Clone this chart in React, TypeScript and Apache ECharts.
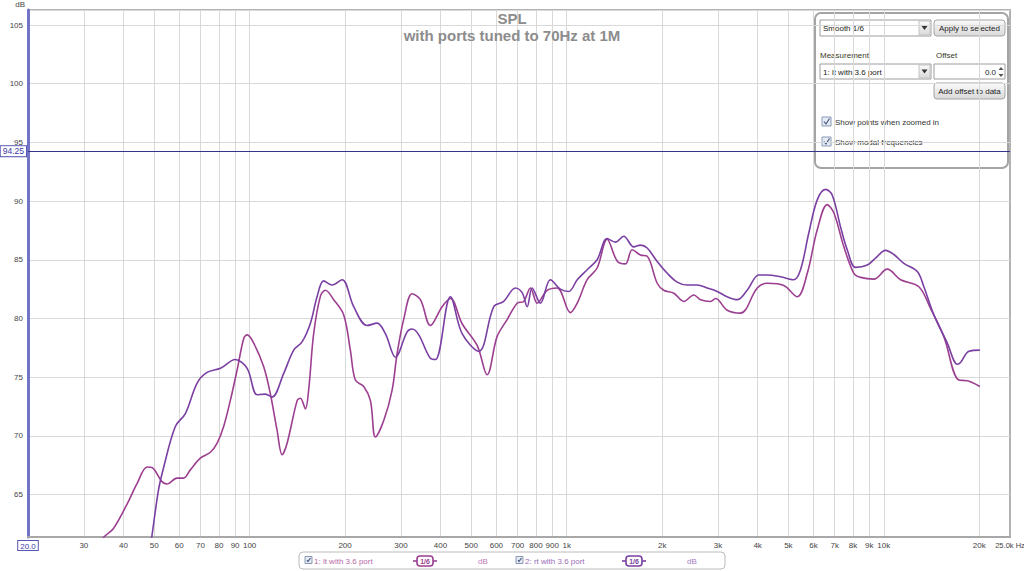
import React, { useEffect, useRef } from "react";
import * as echarts from "echarts";

// ---------- data ----------
const seriesNames = ["1: lt with 3.6 port", "2: rt with 3.6 port"];
const smoothingLabel = "1/6";
const unitLabel = "dB";

const freqLt = [32, 35.1, 37.2, 41.1, 44.1, 47.5, 49.2, 52.9, 54.9, 59.0, 61.9, 65.0, 69.9, 75.2, 78.9, 82.8, 86.9, 91.3, 95.8, 98.2, 103, 110.7, 116.2, 122, 126.6, 131.2, 141.2, 144.6, 149.9, 153.5, 159.2, 167.2, 173.4, 184.1, 198, 207.8, 215.5, 229, 240.4, 249.3, 264.8, 281.4, 291.8, 306, 325.4, 345.6, 371.7, 404.6, 429.8, 467.9, 521.8, 561, 603, 648.7, 697.6, 731.8, 768.4, 807, 867.4, 933, 1027, 1079, 1160, 1247, 1341, 1442, 1532, 1608, 1708, 1794, 1929, 2023, 2177, 2340, 2516, 2642, 2841, 2946, 3206, 3532, 3988, 4288, 4838, 5335, 5736, 6166, 6630, 6956, 7482, 8044, 8447, 9302, 10254, 11294, 12897, 14043, 15465, 17244, 18334, 20085];
const dbLt = [60.5, 61.5, 62.1, 64.2, 65.9, 67.35, 67.3, 66.1, 65.9, 66.4, 66.4, 67.1, 68.1, 68.6, 69.35, 70.8, 73.0, 75.6, 78.3, 78.6, 77.9, 75.9, 73.6, 70.5, 68.4, 69.35, 73.0, 73.2, 72.3, 73.9, 78.7, 81.9, 82.4, 81.6, 80.3, 77.3, 74.75, 74.2, 73.0, 69.9, 71.3, 73.9, 77.0, 79.9, 82.1, 81.6, 79.4, 81.0, 81.7, 79.55, 77.7, 75.2, 78.45, 79.9, 81.3, 81.45, 82.6, 81.3, 82.4, 82.6, 80.5, 81.3, 83.3, 84.3, 86.75, 84.9, 84.65, 85.85, 85.4, 85.3, 83.0, 82.4, 82.15, 81.45, 82.0, 81.6, 81.45, 81.7, 80.7, 80.45, 82.6, 83.0, 82.8, 81.85, 83.85, 87.55, 89.7, 89.0, 86.1, 83.85, 83.5, 83.35, 84.2, 83.3, 82.7, 80.85, 78.45, 74.75, 74.7, 74.2];

const freqRt = [47.5, 49.2, 51.6, 53.6, 58.3, 62.7, 68.3, 73.4, 80.9, 90.1, 98.2, 105.6, 112.1, 117.7, 128, 137.7, 146.3, 155.5, 163.2, 171.2, 182, 195.7, 212.9, 234.6, 252.4, 268, 288.3, 313.8, 325.4, 341.5, 371.7, 385.5, 429.8, 467.9, 528, 588.7, 632.8, 689, 723.5, 750.2, 778, 826, 888, 955, 1015, 1079, 1160, 1247, 1341, 1425, 1513, 1627, 1708, 1794, 1929, 2075, 2230, 2398, 2579, 2773, 2982, 3206, 3448, 3707, 4035, 4288, 4722, 5201, 5462, 5802, 6166, 6548, 6877, 7303, 7667, 8143, 8869, 9419, 10126, 10758, 11564, 12751, 13376, 14384, 15856, 17046, 17462, 18550, 20085];
const dbRt = [58.8, 61.5, 65.4, 67.35, 70.8, 71.9, 74.5, 75.4, 75.75, 76.5, 75.75, 73.5, 73.55, 73.3, 75.3, 77.3, 78.0, 79.6, 81.85, 83.2, 82.85, 83.3, 81.0, 79.4, 79.6, 78.7, 76.7, 78.85, 79.1, 78.6, 76.6, 76.5, 81.85, 78.7, 77.2, 81.0, 81.45, 82.6, 82.2, 81.0, 82.6, 81.3, 83.3, 82.5, 82.3, 83.3, 84.15, 85.0, 86.8, 86.5, 87.0, 86.1, 86.25, 86.0, 84.85, 83.85, 83.1, 82.85, 82.85, 82.6, 82.3, 81.85, 81.6, 82.4, 83.7, 83.7, 83.55, 83.3, 84.15, 87.3, 90.1, 91.0, 90.5, 87.8, 85.85, 84.35, 84.55, 85.15, 85.8, 85.45, 84.7, 84.0, 82.7, 80.3, 77.9, 76.1, 76.25, 77.2, 77.3];

const xLabelValues = [20, 30, 40, 50, 60, 70, 80, 90, 100, 200, 300, 400, 500, 600, 700, 800, 900, 1000, 2000, 3000, 4000, 5000, 6000, 7000, 8000, 9000, 10000, 20000, 25000];
const xGridValues = [30, 40, 50, 60, 70, 80, 90, 100, 200, 300, 400, 500, 600, 700, 800, 900, 1000, 2000, 3000, 4000, 5000, 6000, 7000, 8000, 9000, 10000, 20000];
const xMin = 20;
const xMax = 25000;
const yMin = 61.38;
const yMax = 106.28;
const yStep = 5;
const markerDb = 94.25;

const titleText = "SPL";
const subtitleText = "with ports tuned to 70Hz at 1M";

const panelTexts = {
  smoothing: "Smooth 1/6",
  apply: "Apply to selected",
  measurement: "Measurement",
  offset: "Offset",
  selected: "1: lt with 3.6 port",
  offsetValue: "0.0",
  addOffset: "Add offset to data",
  check1: "Show points when zoomed in",
  check2: "Show modal frequencies",
};

// ---------- styling ----------
const FONT = "Liberation Sans, Arial, sans-serif";
const colLt = "#9c3f90";
const colRt = "#7a3fa2";

function btnGradient() {
  return new echarts.graphic.LinearGradient(0, 0, 0, 1, [
    { offset: 0, color: "#fbfbfb" },
    { offset: 1, color: "#d9d9d9" },
  ]);
}

function dropdown(x: number, y: number, w: number, h: number, text: string): any[] {
  return [
    { type: "rect", shape: { x, y, width: w, height: h }, style: { fill: "#fff", stroke: "#9c9c9c", lineWidth: 1 } },
    { type: "rect", shape: { x: x + w - 12, y: y + 1, width: 11, height: h - 2 }, style: { fill: btnGradient(), stroke: "#c4c4c4", lineWidth: 1 } },
    { type: "polygon", shape: { points: [[x + w - 9.5, y + h / 2 - 2], [x + w - 3.5, y + h / 2 - 2], [x + w - 6.5, y + h / 2 + 2]] }, style: { fill: "#333" } },
    { type: "text", x: x + 3, y: y + h / 2 + 0.5, style: { text, fill: "#222", font: `8px ${FONT}`, verticalAlign: "middle", align: "left" } },
  ];
}

function button(x: number, y: number, w: number, h: number, text: string): any[] {
  return [
    { type: "rect", shape: { x, y, width: w, height: h, r: 3 }, style: { fill: btnGradient(), stroke: "#a4a4a4", lineWidth: 1 } },
    { type: "text", x: x + w / 2, y: y + h / 2 + 0.5, style: { text, fill: "#222", font: `8px ${FONT}`, verticalAlign: "middle", align: "center" } },
  ];
}

function checkbox(x: number, y: number, s: number): any[] {
  return [
    { type: "rect", shape: { x, y, width: s, height: s }, style: { fill: "#e6ecf6", stroke: "#8a98b4", lineWidth: 1 } },
    { type: "polyline", shape: { points: [[x + 2, y + s / 2], [x + s / 2 - 0.5, y + s - 2], [x + s - 1.5, y + 1.5]] }, style: { stroke: "#4a5a80", fill: null, lineWidth: 1.2 } },
  ];
}

function legendIcon(cx: number, cy: number, color: string): any[] {
  return [
    { type: "line", shape: { x1: cx - 12, y1: cy, x2: cx + 12, y2: cy }, style: { stroke: color, lineWidth: 1.6 } },
    { type: "rect", shape: { x: cx - 8, y: cy - 5, width: 16, height: 10, r: 3 }, style: { fill: "#fff", stroke: color, lineWidth: 1.6 } },
    { type: "text", x: cx, y: cy + 0.5, style: { text: smoothingLabel, fill: color, font: `bold 7px ${FONT}`, verticalAlign: "middle", align: "center" } },
  ];
}

function buildOption(): any {
  const lt = freqLt.map((f, i) => [f, dbLt[i]]);
  const rt = freqRt.map((f, i) => [f, dbRt[i]]);

  const panel: any[] = [
    { type: "rect", shape: { x: 815, y: 13, width: 193, height: 155, r: 6 }, style: { fill: "rgba(255,255,255,0.72)", stroke: "#a4a4a4", lineWidth: 2 } },
    ...dropdown(820, 20, 111, 16, panelTexts.smoothing),
    ...button(934, 20, 71, 16, panelTexts.apply),
    { type: "text", x: 820, y: 55, style: { text: panelTexts.measurement, fill: "#3a3a1e", font: `8px ${FONT}`, verticalAlign: "middle" } },
    { type: "text", x: 936, y: 55, style: { text: panelTexts.offset, fill: "#3a3a1e", font: `8px ${FONT}`, verticalAlign: "middle" } },
    ...dropdown(820, 64, 111, 15, panelTexts.selected),
    { type: "rect", shape: { x: 934, y: 64, width: 71, height: 15 }, style: { fill: "#fff", stroke: "#9c9c9c", lineWidth: 1 } },
    { type: "text", x: 996, y: 72, style: { text: panelTexts.offsetValue, fill: "#222", font: `8px ${FONT}`, verticalAlign: "middle", align: "right" } },
    { type: "polygon", shape: { points: [[998.5, 70], [1003.5, 70], [1001, 67]] }, style: { fill: "#555" } },
    { type: "polygon", shape: { points: [[998.5, 74], [1003.5, 74], [1001, 77]] }, style: { fill: "#555" } },
    ...button(934, 83, 71, 16, panelTexts.addOffset),
    ...checkbox(822, 117, 9),
    { type: "text", x: 835, y: 122, style: { text: panelTexts.check1, fill: "#333", font: `8px ${FONT}`, verticalAlign: "middle" } },
    ...checkbox(822, 137, 9),
    { type: "text", x: 835, y: 142, style: { text: panelTexts.check2, fill: "#333", font: `8px ${FONT}`, verticalAlign: "middle" } },
  ];

  const legend: any[] = [
    { type: "rect", shape: { x: 299, y: 552, width: 426, height: 17, r: 4 }, style: { fill: "#fff", stroke: "#bcbcbc", lineWidth: 1 } },
    ...checkbox(305, 556.5, 7),
    { type: "text", x: 314, y: 561, style: { text: seriesNames[0], fill: "#b86aa8", font: `8px ${FONT}`, verticalAlign: "middle" } },
    ...legendIcon(425, 561, colLt),
    { type: "text", x: 483, y: 561, style: { text: unitLabel, fill: "#c07cb8", font: `8px ${FONT}`, verticalAlign: "middle", align: "center" } },
    ...checkbox(516, 556.5, 7),
    { type: "text", x: 525, y: 561, style: { text: seriesNames[1], fill: "#9a6cb8", font: `8px ${FONT}`, verticalAlign: "middle" } },
    ...legendIcon(634, 561, colRt),
    { type: "text", x: 692, y: 561, style: { text: unitLabel, fill: "#a27cc2", font: `8px ${FONT}`, verticalAlign: "middle", align: "center" } },
  ];

  return {
    animation: false,
    backgroundColor: "#ffffff",
    title: [
      { text: titleText, left: "center", top: 6, textStyle: { fontSize: 15, fontWeight: "bold", color: "#8c8c8c", fontFamily: FONT } },
      { text: subtitleText, left: "center", top: 23, textStyle: { fontSize: 15, fontWeight: "bold", color: "#8c8c8c", fontFamily: FONT } },
    ],
    grid: {
      left: 28, right: 14, top: 10, bottom: 34,
      show: true, borderColor: "#b2b2b2", borderWidth: 2, backgroundColor: "transparent",
      containLabel: false, outerBoundsMode: "none",
    },
    xAxis: {
      type: "log",
      logBase: 10,
      min: xMin,
      max: xMax,
      axisLine: { show: true, lineStyle: { color: "#a8a8a8", width: 2 } },
      axisTick: { show: false, customValues: xGridValues },
      splitLine: { show: true, lineStyle: { color: "#d9d9d9", width: 1 } },
      minorSplitLine: { show: false },
      axisLabel: {
        customValues: xLabelValues,
        showMinLabel: true,
        showMaxLabel: true,
        margin: 4,
        fontSize: 8,
        fontFamily: FONT,
        color: "#444",
        formatter: (v: number) => {
          const r = Math.round(v);
          if (r === xMin) return "{box|20.0}";
          if (r === xMax) return "{end|25.0k Hz}";
          if (r >= 1000) return r / 1000 + "k";
          return String(r);
        },
        rich: {
          box: { borderColor: "#5656b8", borderWidth: 1, padding: [1, 2, 0, 2], color: "#3a3aa8", backgroundColor: "#fff", fontSize: 8, fontFamily: FONT },
          end: { fontSize: 7.5, fontFamily: FONT, color: "#444" },
        },
      },
    },
    yAxis: {
      type: "value",
      min: yMin,
      max: yMax,
      splitNumber: 9,
      minInterval: yStep,
      maxInterval: yStep,
      name: unitLabel,
      nameLocation: "end",
      nameGap: 2,
      nameTextStyle: { fontSize: 8, color: "#444", fontFamily: FONT, align: "right", verticalAlign: "bottom", padding: [0, 3, 0, 0] },
      axisLine: { show: true, lineStyle: { color: "#7474c6", width: 3 } },
      axisTick: { show: false },
      splitLine: { show: true, lineStyle: { color: "#d9d9d9", width: 1 } },
      axisLabel: {
        margin: 5,
        fontSize: 8,
        fontFamily: FONT,
        color: "#444",
        showMinLabel: false,
        showMaxLabel: false,
        formatter: (v: number) => (Math.abs(v / yStep - Math.round(v / yStep)) < 1e-6 ? String(Math.round(v)) : ""),
      },
    },
    series: [
      {
        name: seriesNames[0],
        type: "line",
        data: lt,
        smooth: 0.35,
        showSymbol: false,
        symbol: "none",
        clip: true,
        lineStyle: { color: colLt, width: 1.6 },
        itemStyle: { color: colLt },
        z: 3,
        markLine: {
          silent: true,
          symbol: ["none", "none"],
          data: [{ yAxis: markerDb }],
          lineStyle: { color: "#34348a", width: 1.2, type: "solid" },
          label: {
            show: true,
            position: "start",
            distance: 2,
            formatter: String(markerDb),
            color: "#3a3aa8",
            fontSize: 8.5,
            fontFamily: FONT,
            borderColor: "#5656b8",
            borderWidth: 1,
            backgroundColor: "#fff",
            padding: [1, 2, 0, 2],
          },
          z: 5,
        },
      },
      {
        name: seriesNames[1],
        type: "line",
        data: rt,
        smooth: 0.35,
        showSymbol: false,
        symbol: "none",
        clip: true,
        lineStyle: { color: colRt, width: 1.6 },
        itemStyle: { color: colRt },
        z: 3,
      },
    ],
    graphic: [
      { type: "group", z: 1, children: panel },
      { type: "group", z: 1, children: legend },
    ],
  };
}

export default function App() {
  const ref = useRef<HTMLDivElement>(null);
  useEffect(() => {
    if (!ref.current) return;
    const chart = echarts.init(ref.current, null, { renderer: "svg" });
    const option = buildOption();
    chart.setOption(option);
    return () => {
      chart.dispose();
    };
  }, []);
  return (
    <div
      ref={ref}
      style={{ position: "fixed", left: 0, top: 0, width: 1024, height: 571, background: "#fff" }}
    />
  );
}
